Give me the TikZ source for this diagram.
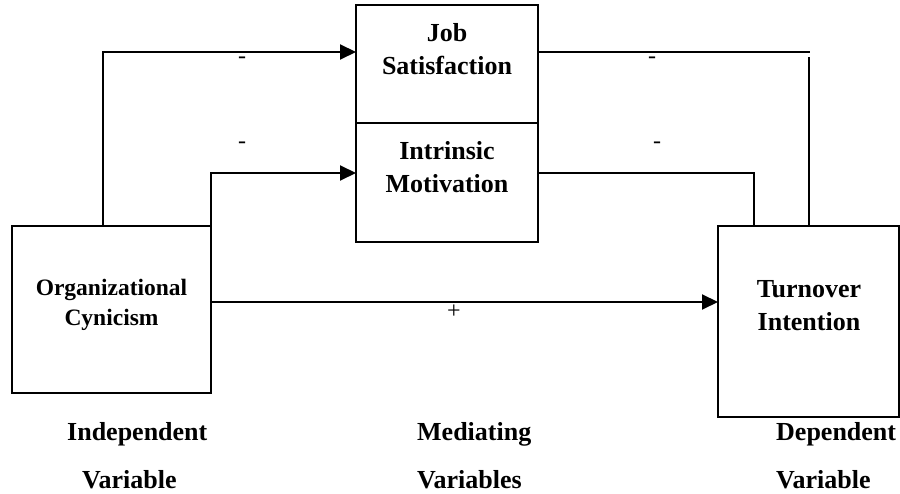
\documentclass[tikz,border=0pt]{standalone}
\usepackage{fontspec}
\setmainfont{Liberation Serif}
\usetikzlibrary{arrows.meta,calc}
\begin{document}
\begin{tikzpicture}[x=1pt,y=-1pt,
  box/.style={draw, line width=2pt, inner sep=0pt, outer sep=0pt, rectangle},
  lbl/.style={font=\bfseries\fontsize{26}{33}\selectfont, align=center, inner sep=0pt},
  orglbl/.style={font=\bfseries\fontsize{23.5}{30}\selectfont, align=center, inner sep=0pt},
  foot/.style={font=\bfseries\fontsize{26}{48}\selectfont, align=left, inner sep=0pt, anchor=north west},
  sign/.style={font=\fontsize{24}{28}\selectfont, inner sep=0pt},
  conn/.style={line width=2pt},
  arr/.style={conn, -{Triangle[length=16pt, width=15pt]}}
]
\useasboundingbox (0,0) rectangle (900,494);

% boxes
\node[box, minimum width=182pt, minimum height=118pt] (job) at (447,64) {};
\node[box, minimum width=182pt, minimum height=119pt] (intr) at (447,182.5) {};
\node[box, minimum width=199pt, minimum height=167pt] (org) at (111.5,309.5) {};
\node[box, minimum width=181pt, minimum height=191pt] (turn) at (808.5,321.5) {};

% box texts
\node[lbl] (jobtxt) at (447,51) {\strut Job\\\strut Satisfaction};
\node[lbl] (intrtxt) at (447,169) {\strut Intrinsic\\\strut Motivation};
\node[orglbl] (orgtxt) at (111.5,305) {\strut Organizational\\\strut Cynicism};
\node[lbl] (turntxt) at (809,307.4) {\strut Turnover\\\strut Intention};

% footer labels
\node[foot] (iv) at (67,406.4) {\strut Independent\\\hspace*{15pt}Variable};
\node[foot] (mv) at (417,406.4) {\strut Mediating\\Variables};
\node[foot] (dv) at (776,406.4) {\strut Dependent\\Variable};

% connectors
\coordinate (o1) at ([xshift=91pt]org.north west);
\draw[arr] (o1) |- ([yshift=12pt]job.west);
\draw[arr] (org.north east) |- ([yshift=9.5pt]intr.west);
\coordinate (o3) at ([yshift=7.5pt]org.east);
\draw[arr] (o3) -- (o3 -| turn.west);

\coordinate (j1) at ([yshift=12pt]job.east);
\coordinate (t4) at ([xshift=91pt]turn.north west);
\draw[conn] (j1) -- ++(272,0);
\draw[conn] (t4) -- ++(0,-169);

\coordinate (i1) at ([yshift=9.5pt]intr.east);
\coordinate (t5) at ([xshift=36pt]turn.north west);
\draw[conn] (i1) -| (t5);

% signs
\node[sign] (s1) at (242,60) {-};
\node[sign] (s2) at (242,145) {-};
\node[sign] (s3) at (652,60) {-};
\node[sign] (s4) at (657,145) {-};
\node[sign] (s5) at (454,312) {+};
\end{tikzpicture}
\end{document}
